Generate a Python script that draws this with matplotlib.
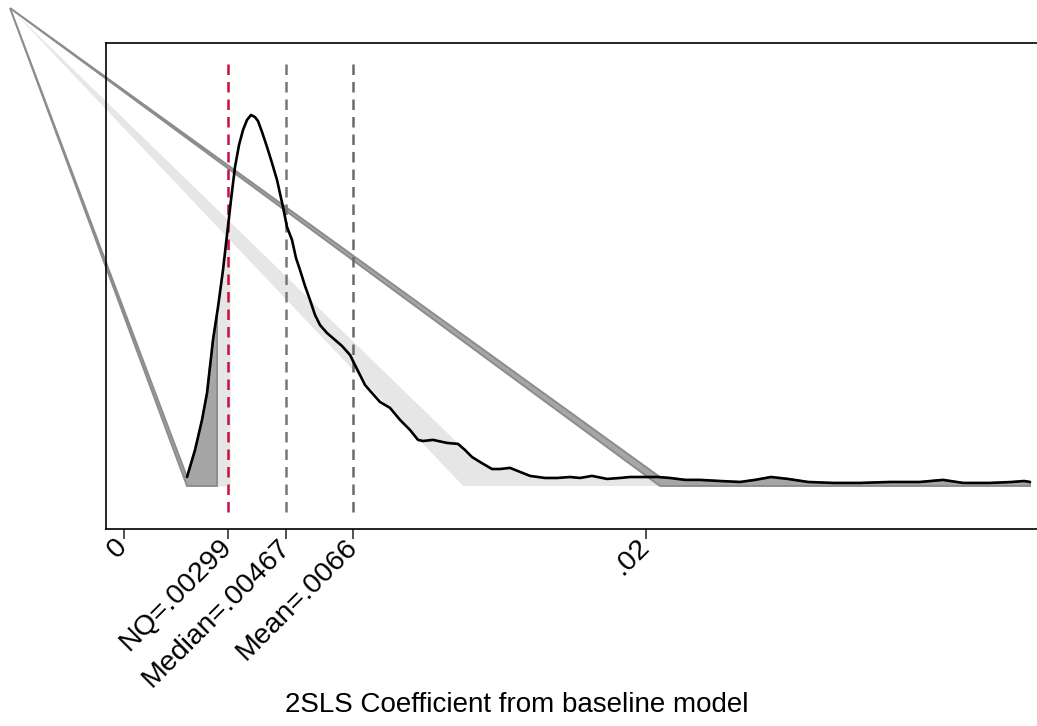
import numpy as np
import matplotlib.pyplot as plt

plt.rcParams['font.family'] = ['Liberation Sans', 'DejaVu Sans']

# kernel density of the 2SLS coefficient (x) and density (y)
dens_x = np.array([1.822, 2.052, 2.253, 2.397, 2.569, 2.713, 2.856, 2.971, 3.086, 3.201,
                   3.316, 3.431, 3.546, 3.661, 3.776, 3.862, 3.977, 4.121, 4.264, 4.408,
                   4.580, 4.695, 4.839, 4.954, 5.069, 5.213, 5.356, 5.500, 5.644, 5.845,
                   6.075, 6.276, 6.506, 6.649, 6.793, 6.937, 7.138, 7.368, 7.655, 7.943,
                   8.230, 8.460, 8.603, 8.891, 9.293, 9.609, 9.810, 10.011, 10.241, 10.586,
                   10.816, 11.103, 11.391, 11.678, 12.109, 12.454, 12.828, 13.115, 13.460, 13.891,
                   14.264, 14.552, 14.983, 15.356, 15.701, 16.132, 16.563, 17.138, 17.713, 18.144,
                   18.603, 19.092, 19.667, 20.385, 21.161, 22.023, 22.885, 23.546, 24.121, 24.897,
                   25.529, 25.874, 26.046]) / 1000
dens_y = np.array([5.6, 22.5, 41.3, 58.1, 91.3, 111.9, 135.0, 156.9, 178.8, 199.4,
                   213.1, 222.5, 228.8, 231.9, 230.6, 228.1, 221.3, 211.9, 201.9, 191.3,
                   174.4, 161.9, 153.8, 142.5, 135.0, 125.0, 116.3, 106.9, 100.6, 95.6,
                   91.3, 87.5, 81.9, 75.6, 69.4, 63.1, 58.1, 52.5, 48.8, 41.3,
                   35.0, 28.8, 28.1, 28.8, 26.9, 26.3, 22.5, 18.1, 15.0, 10.6,
                   10.6, 11.3, 8.8, 6.3, 5.0, 5.0, 5.6, 5.0, 6.3, 4.4,
                   5.0, 5.6, 5.6, 5.6, 5.0, 3.8, 3.8, 3.1, 2.5, 3.8,
                   5.6, 4.4, 2.5, 1.9, 1.9, 2.5, 2.5, 3.8, 1.9, 1.9,
                   2.5, 3.1, 2.5])

# summary statistics shown as reference lines
nq = 0.00299
median = 0.00467
mean = 0.0066

tick_vals = [0, nq, median, mean, 0.015]
tick_labels = ['0', 'NQ=.00299', 'Median=.00467', 'Mean=.0066', '.02']

# shaded regions (cut points on x)
left_tail = (0.001822, 0.002684)
strip = (0.002684, 0.003057)
middle = (0.009753, 0.015414)
right_tail = (0.015414, 0.026046)

# stray point the shaded areas get closed to
apex_x, apex_y = -0.003264, 298.75

DARK = '#a6a6a6'
DARK_EDGE = '#8c8c8c'
LIGHT = '#e6e6e6'


def curve_between(a, b):
    inside = (dens_x > a) & (dens_x < b)
    xs = np.concatenate([[a], dens_x[inside], [b]])
    ys = np.concatenate([[np.interp(a, dens_x, dens_y)], dens_y[inside],
                         [np.interp(b, dens_x, dens_y)]])
    return xs, ys


def area_poly(ax, a, b, face, edge):
    xs, ys = curve_between(a, b)
    px = np.concatenate([[apex_x, a, b], xs[::-1], [apex_x]])
    py = np.concatenate([[apex_y, 0, 0], ys[::-1], [apex_y]])
    ax.fill(px, py, facecolor=face, edgecolor=edge if edge else 'none',
            lw=1.4, clip_on=False, zorder=2, joinstyle='miter')


fig = plt.figure(figsize=(10.37, 7.26), dpi=100)
ax = fig.add_axes([106 / 1037, 1 - 529 / 726, (1040 - 106) / 1037, 486 / 726])

# light strip next to the left tail
xs, ys = curve_between(*strip)
ax.fill_between(xs, 0, ys, color=LIGHT, lw=0, zorder=1)

area_poly(ax, middle[0], middle[1], LIGHT, None)
area_poly(ax, left_tail[0], left_tail[1], DARK, DARK_EDGE)
area_poly(ax, right_tail[0], right_tail[1], DARK, DARK_EDGE)

for xv, col in [(nq, '#c8103c'), (median, '#777777'), (mean, '#6a6a6a')]:
    ax.axvline(xv, ymin=0.035, ymax=0.965, color=col, lw=1.8,
               dashes=(4.2, 2.8), zorder=3)

ax.plot(dens_x, dens_y, color='black', lw=1.9, zorder=4,
        solid_joinstyle='round', solid_capstyle='round')

ax.set_xlim(-0.000506, 0.026333)
ax.set_ylim(-26.9, 276.9)

ax.set_xticks(tick_vals)
ax.set_xticklabels(tick_labels, rotation=45, ha='right', va='center',
                   rotation_mode='anchor', fontsize=20.5)
ax.tick_params(axis='x', direction='out', length=7, width=1.1, color='#222222', pad=3)
ax.set_yticks([])
for s in ax.spines.values():
    s.set_linewidth(1.2)

ax.set_xlabel('2SLS Coefficient from baseline model', fontsize=20)
ax.xaxis.set_label_coords((517 - 106) / (1040 - 106), (529 - 705) / 486)
ax.xaxis.label.set_va('center')

fig.savefig('out.png', dpi=100)
